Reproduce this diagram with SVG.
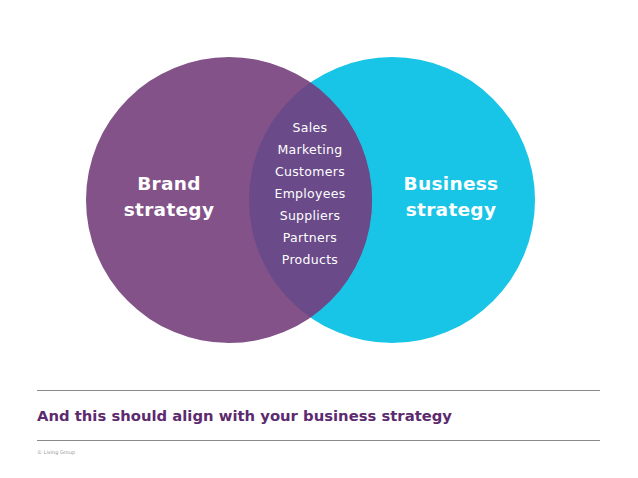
<svg xmlns="http://www.w3.org/2000/svg" width="638" height="478" viewBox="0 0 638 478">
<style>
.lbl{font-family:"DejaVu Sans",sans-serif;font-weight:bold;font-size:18.5px;fill:#fff;text-anchor:middle;letter-spacing:0.3px}
.item{font-family:"DejaVu Sans",sans-serif;font-size:12.5px;fill:#fff;text-anchor:middle;letter-spacing:0.3px}
.rule{stroke:#8a8a8a;stroke-width:1}
</style>
<defs>
<clipPath id="clipBlue"><circle cx="392" cy="200" r="143"/></clipPath>
</defs>
<rect width="638" height="478" fill="#fff"/>
<g id="business">
<circle cx="392" cy="200" r="143" fill="#19c5e7"/>
<text class="lbl" x="451" y="190">Business</text>
<text class="lbl" x="451" y="216">strategy</text>
</g>
<g id="brand">
<circle cx="229" cy="200" r="143" fill="#825289"/>
<text class="lbl" x="169" y="190">Brand</text>
<text class="lbl" x="169" y="216">strategy</text>
</g>
<g id="overlap">
<circle cx="229" cy="200" r="143" fill="#6a4a88" clip-path="url(#clipBlue)"/>
<text class="item" x="310" y="132">Sales</text>
<text class="item" x="310" y="154">Marketing</text>
<text class="item" x="310" y="176">Customers</text>
<text class="item" x="310" y="198">Employees</text>
<text class="item" x="310" y="220">Suppliers</text>
<text class="item" x="310" y="242">Partners</text>
<text class="item" x="310" y="264">Products</text>
</g>
<g id="footer">
<line class="rule" x1="37" y1="390.5" x2="600" y2="390.5"/>
<line class="rule" x1="37" y1="440.5" x2="600" y2="440.5"/>
<text x="37" y="421" font-family="DejaVu Sans,sans-serif" font-weight="bold" font-size="14.8px" fill="#5c2a6e" textLength="415">And this should align with your business strategy</text>
<text x="37" y="454" font-family="DejaVu Sans,sans-serif" font-size="5px" fill="#999">© Living Group</text>
</g>
</svg>
